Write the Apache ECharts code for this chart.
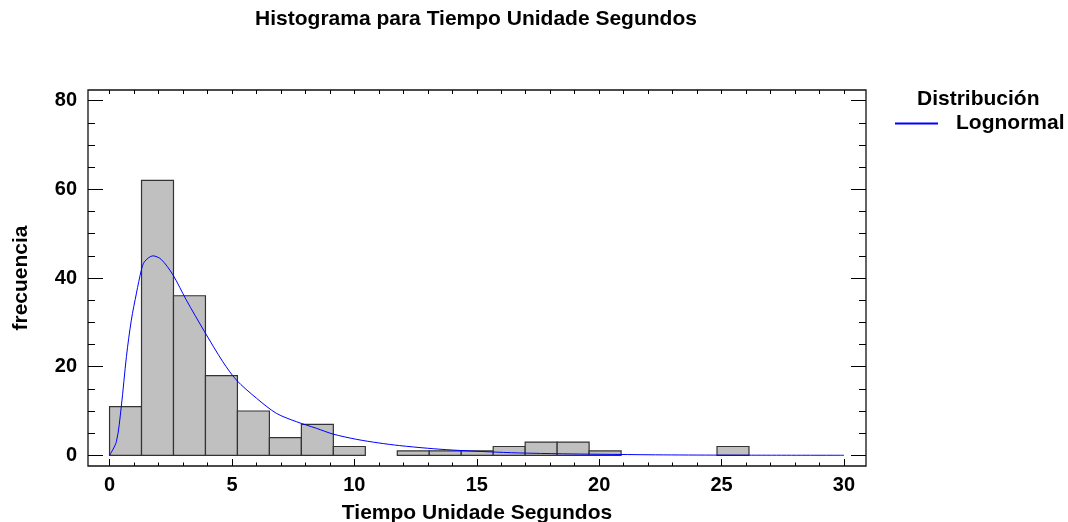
<!DOCTYPE html>
<html>
<head>
<meta charset="utf-8">
<script src="https://cdn.jsdelivr.net/npm/echarts@6/dist/echarts.min.js"></script>
<style>
html,body{margin:0;padding:0;background:#fff;}
#c{width:1068px;height:522px;}
</style>
</head>
<body>
<div id="c"></div>
<script>
// Histogram bins
var binWidth = 1.306;
var binCounts = [11, 62, 36, 18, 10, 4, 7, 2, 0, 1, 1, 1, 2, 3, 3, 1, 0, 0, 0, 2];
// Fitted lognormal curve
var curveX = [0.0, 0.28, 0.48, 0.69, 0.89, 1.1, 1.3, 1.43, 1.77, 2.11, 2.59, 3.13, 3.88, 4.63, 5.18, 6.0, 6.81, 7.63, 8.45, 9.13, 10.1, 11.0, 11.85, 13.0, 14.0, 15.5, 16.7, 18.5, 20.0, 22.3, 25.0, 30.0];
var curveY = [0, 3.1, 11.0, 22.3, 30.5, 36.6, 41.8, 43.7, 45.0, 44.2, 40.7, 35.1, 27.9, 21.1, 17.0, 12.9, 9.5, 7.6, 6.1, 4.8, 3.6, 2.8, 2.2, 1.6, 1.2, 0.8, 0.55, 0.35, 0.25, 0.12, 0.05, 0.02];
// Tick values
var xMajorTicks = [0, 5, 10, 15, 20, 25, 30];
var xMinorTicks = [];
for (var i = 0; i <= 30; i++) xMinorTicks.push(i);
var yMajorTicks = [0, 20, 40, 60, 80];
var yMinorTicks = [];
for (var j = 0; j <= 80; j += 5) yMinorTicks.push(j);

var X_MIN = -0.88, X_MAX = 30.9, Y_MIN = -2.4, Y_MAX = 82.4;
var FONT = '"Liberation Sans", Arial, sans-serif';

var histData = binCounts.map(function (c, k) { return [k * binWidth, (k + 1) * binWidth, c]; });
var lineData = curveX.map(function (x, k) { return [x, curveY[k]]; });

function xAx(pos, ticks, len, labels, extra) {
  var a = {
    type: 'value', position: pos, min: X_MIN, max: X_MAX,
    axisLine: { show: false, onZero: false },
    splitLine: { show: false },
    axisTick: { show: true, inside: true, length: len, customValues: ticks, lineStyle: { color: '#000', width: 1 } },
    axisLabel: labels ? { show: true, customValues: ticks, margin: 9, color: '#000', fontSize: 20, fontWeight: 'bold', fontFamily: FONT } : { show: false }
  };
  if (extra) for (var k in extra) a[k] = extra[k];
  return a;
}
function yAx(pos, ticks, len, labels, extra) {
  var a = {
    type: 'value', position: pos, min: Y_MIN, max: Y_MAX,
    axisLine: { show: false, onZero: false },
    splitLine: { show: false },
    axisTick: { show: true, inside: true, length: len, customValues: ticks, lineStyle: { color: '#000', width: 1 } },
    axisLabel: labels ? { show: true, customValues: ticks, margin: 11, color: '#000', fontSize: 20, fontWeight: 'bold', fontFamily: FONT } : { show: false }
  };
  if (extra) for (var k in extra) a[k] = extra[k];
  return a;
}

var chart = echarts.init(document.getElementById('c'), null, { renderer: 'canvas' });
chart.setOption({
  animation: false,
  backgroundColor: '#fff',
  title: [
    { text: 'Histograma para Tiempo Unidade Segundos', left: 476, textAlign: 'center', top: 9, padding: 0,
      textStyle: { fontSize: 21, fontWeight: 'bold', color: '#000', fontFamily: FONT } },
    { text: 'Distribución', left: 917, top: 89, padding: 0,
      textStyle: { fontSize: 21, fontWeight: 'bold', color: '#000', fontFamily: FONT } }
  ],
  legend: {
    left: 895, top: 113, itemWidth: 43, itemHeight: 2, itemGap: 10, padding: 0,
    data: [{ name: 'Lognormal', icon: 'rect' }],
    textStyle: { fontSize: 21, fontWeight: 'bold', color: '#000', fontFamily: FONT, padding: [0, 0, 6, 13] }
  },
  grid: { left: 88, top: 90, right: 202, bottom: 56, containLabel: false, outerBoundsMode: 'none',
    show: true, borderColor: '#111', borderWidth: 1.3, backgroundColor: 'transparent' },
  xAxis: [
    xAx('bottom', xMajorTicks, 7, true, { name: 'Tiempo Unidade Segundos', nameLocation: 'middle', nameGap: 37,
      nameTextStyle: { fontSize: 21, fontWeight: 'bold', color: '#000', fontFamily: FONT } }),
    xAx('bottom', xMinorTicks, 3.5, false),
    xAx('top', xMinorTicks, 4, false)
  ],
  yAxis: [
    yAx('left', yMajorTicks, 15, true, { name: 'frecuencia', nameLocation: 'middle', nameGap: 56, nameRotate: 90,
      nameTextStyle: { fontSize: 21, fontWeight: 'bold', color: '#000', fontFamily: FONT } }),
    yAx('left', yMinorTicks, 7, false),
    yAx('right', yMajorTicks, 15, false),
    yAx('right', yMinorTicks, 7, false)
  ],
  series: [
    {
      type: 'custom', name: 'hist', xAxisIndex: 0, yAxisIndex: 0,
      data: histData,
      renderItem: function (params, api) {
        var c = api.value(2);
        if (!c) return null;
        var p0 = api.coord([api.value(0), 0]);
        var p1 = api.coord([api.value(1), c]);
        return {
          type: 'rect',
          shape: { x: p0[0], y: p1[1], width: p1[0] - p0[0], height: p0[1] - p1[1] },
          style: { fill: '#c0c0c0', stroke: '#333', lineWidth: 1.2 }
        };
      },
      encode: { x: [0, 1], y: 2 },
      z: 2
    },
    {
      type: 'line', name: 'Lognormal', xAxisIndex: 0, yAxisIndex: 0,
      data: lineData, symbol: 'none', smooth: 0.3,
      lineStyle: { color: '#0000ff', width: 1 },
      itemStyle: { color: '#0000ff' },
      z: 3
    }
  ]
});
</script>
</body>
</html>
